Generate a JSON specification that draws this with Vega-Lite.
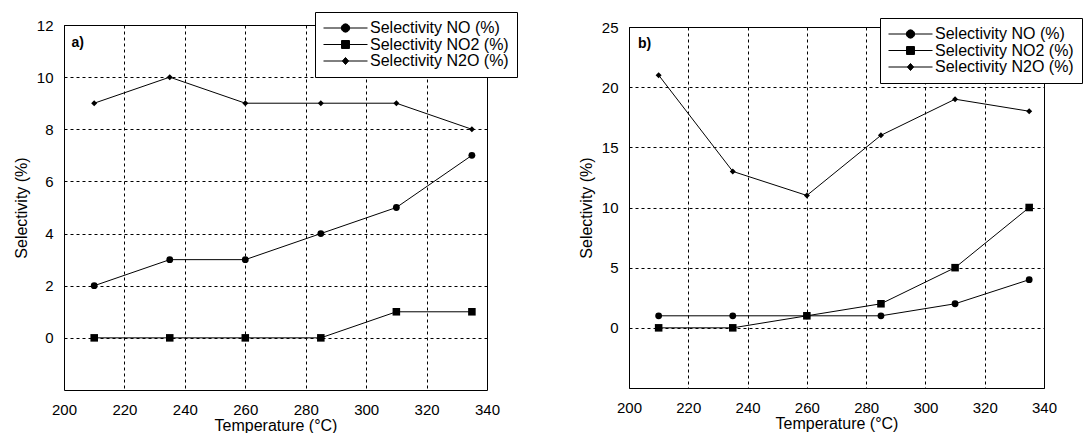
{
  "$schema": "https://vega.github.io/schema/vega-lite/v6.json",
  "autosize": {"type": "pad"},
  "padding": {"left": 12, "top": 11, "right": 0, "bottom": 0},
  "background": "white",
  "config": {
    "font": "Liberation Sans",
    "view": {"stroke": "black", "strokeWidth": 1},
    "axis": {
      "labelFont": "Liberation Sans",
      "labelFontSize": 15,
      "labelColor": "black",
      "titleFont": "Liberation Sans",
      "titleFontSize": 16,
      "titleFontWeight": "normal",
      "titleColor": "black",
      "domain": false,
      "ticks": false,
      "grid": true,
      "gridColor": "black",
      "gridDash": [3, 3],
      "gridWidth": 1,
      "labelFlush": false,
      "labelOverlap": false
    },
    "axisX": {"labelPadding": 12, "titlePadding": 0},
    "axisY": {"labelPadding": 11, "titlePadding": 7},
    "legend": {
      "labelFont": "Liberation Sans",
      "labelFontSize": 16,
      "labelColor": "black",
      "title": null,
      "orient": "none",
      "padding": 8,
      "symbolSize": 1936,
      "clipHeight": 16,
      "rowPadding": 0.5,
      "labelOffset": 2,
      "symbolOpacity": 1,
      "symbolStrokeWidth": 1
    }
  },
  "datasets": {
    "a": [
      {"T": 210, "sel": 2, "series": "Selectivity NO (%)"},
      {"T": 235, "sel": 3, "series": "Selectivity NO (%)"},
      {"T": 260, "sel": 3, "series": "Selectivity NO (%)"},
      {"T": 285, "sel": 4, "series": "Selectivity NO (%)"},
      {"T": 310, "sel": 5, "series": "Selectivity NO (%)"},
      {"T": 335, "sel": 7, "series": "Selectivity NO (%)"},
      {"T": 210, "sel": 0, "series": "Selectivity NO2 (%)"},
      {"T": 235, "sel": 0, "series": "Selectivity NO2 (%)"},
      {"T": 260, "sel": 0, "series": "Selectivity NO2 (%)"},
      {"T": 285, "sel": 0, "series": "Selectivity NO2 (%)"},
      {"T": 310, "sel": 1, "series": "Selectivity NO2 (%)"},
      {"T": 335, "sel": 1, "series": "Selectivity NO2 (%)"},
      {"T": 210, "sel": 9, "series": "Selectivity N2O (%)"},
      {"T": 235, "sel": 10, "series": "Selectivity N2O (%)"},
      {"T": 260, "sel": 9, "series": "Selectivity N2O (%)"},
      {"T": 285, "sel": 9, "series": "Selectivity N2O (%)"},
      {"T": 310, "sel": 9, "series": "Selectivity N2O (%)"},
      {"T": 335, "sel": 8, "series": "Selectivity N2O (%)"}
    ],
    "b": [
      {"T": 210, "sel": 1, "series": "Selectivity NO (%)"},
      {"T": 235, "sel": 1, "series": "Selectivity NO (%)"},
      {"T": 260, "sel": 1, "series": "Selectivity NO (%)"},
      {"T": 285, "sel": 1, "series": "Selectivity NO (%)"},
      {"T": 310, "sel": 2, "series": "Selectivity NO (%)"},
      {"T": 335, "sel": 4, "series": "Selectivity NO (%)"},
      {"T": 210, "sel": 0, "series": "Selectivity NO2 (%)"},
      {"T": 235, "sel": 0, "series": "Selectivity NO2 (%)"},
      {"T": 260, "sel": 1, "series": "Selectivity NO2 (%)"},
      {"T": 285, "sel": 2, "series": "Selectivity NO2 (%)"},
      {"T": 310, "sel": 5, "series": "Selectivity NO2 (%)"},
      {"T": 335, "sel": 10, "series": "Selectivity NO2 (%)"},
      {"T": 210, "sel": 21, "series": "Selectivity N2O (%)"},
      {"T": 235, "sel": 13, "series": "Selectivity N2O (%)"},
      {"T": 260, "sel": 11, "series": "Selectivity N2O (%)"},
      {"T": 285, "sel": 16, "series": "Selectivity N2O (%)"},
      {"T": 310, "sel": 19, "series": "Selectivity N2O (%)"},
      {"T": 335, "sel": 18, "series": "Selectivity N2O (%)"}
    ]
  },
  "bounds": "flush",
  "center": true,
  "spacing": 142,
  "hconcat": [
    {
      "width": 423,
      "height": 365,
      "data": {"name": "a"},
      "layer": [
        {
          "mark": {"type": "line", "color": "black", "strokeWidth": 1},
          "encoding": {
            "x": {"field": "T", "type": "quantitative", "scale": {"domain": [200, 340], "nice": false, "zero": false}, "axis": {"values": [200, 220, 240, 260, 280, 300, 320, 340], "title": "Temperature (°C)"}},
            "y": {"field": "sel", "type": "quantitative", "scale": {"domain": [-2, 12], "nice": false, "zero": false}, "axis": {"values": [0, 2, 4, 6, 8, 10, 12], "title": "Selectivity (%)"}},
            "detail": {"field": "series"}
          }
        },
        {
          "mark": {"type": "point", "filled": false, "color": "black", "fill": "black", "stroke": "black", "strokeWidth": 1, "opacity": 0},
          "encoding": {
            "x": {"field": "T", "type": "quantitative"},
            "y": {"field": "sel", "type": "quantitative"},
            "shape": {
              "field": "series", "type": "nominal",
              "scale": {"domain": ["Selectivity NO (%)", "Selectivity NO2 (%)", "Selectivity N2O (%)"], "range": ["M-1,0H1M0.19,0L0.165,0.095L0.095,0.165L0,0.19L-0.095,0.165L-0.165,0.095L-0.19,0L-0.165,-0.095L-0.095,-0.165L0,-0.19L0.095,-0.165L0.165,-0.095Z", "M-1,0H1M-0.18,-0.18H0.18V0.18H-0.18Z", "M-1,0H1M0,-0.16L0.14,0L0,0.16L-0.14,0Z"]},
              "legend": {"legendX": 251, "legendY": -13, "strokeColor": "black", "fillColor": "white"}
            }
          }
        },
        {
          "mark": {"type": "point", "filled": true, "color": "black", "opacity": 1},
          "encoding": {
            "x": {"field": "T", "type": "quantitative"},
            "y": {"field": "sel", "type": "quantitative"},
            "size": {"field": "series", "type": "nominal", "scale": {"domain": ["Selectivity N2O (%)", "Selectivity NO (%)", "Selectivity NO2 (%)"], "range": [36, 57, 64]}, "legend": null},
            "shape": {"field": "series", "type": "nominal", "scale": {"domain": ["Selectivity N2O (%)", "Selectivity NO (%)", "Selectivity NO2 (%)"], "range": ["diamond", "circle", "square"]}, "legend": null}
          }
        },
        {
          "data": {"values": [{"label": "a)"}]},
          "mark": {"type": "text", "align": "left", "baseline": "middle", "fontWeight": "bold", "fontSize": 14, "color": "black", "font": "Liberation Sans"},
          "encoding": {
            "x": {"datum": 202.5},
            "y": {"datum": 11.3},
            "text": {"field": "label"}
          }
        }
      ],
      "resolve": {"scale": {"shape": "independent", "size": "independent"}, "legend": {"shape": "independent"}}
    },
    {
      "width": 415,
      "height": 361,
      "data": {"name": "b"},
      "layer": [
        {
          "mark": {"type": "line", "color": "black", "strokeWidth": 1},
          "encoding": {
            "x": {"field": "T", "type": "quantitative", "scale": {"domain": [200, 340], "nice": false, "zero": false}, "axis": {"values": [200, 220, 240, 260, 280, 300, 320, 340], "title": "Temperature (°C)"}},
            "y": {"field": "sel", "type": "quantitative", "scale": {"domain": [-5, 25], "nice": false, "zero": false}, "axis": {"values": [0, 5, 10, 15, 20, 25], "title": "Selectivity (%)"}},
            "detail": {"field": "series"}
          }
        },
        {
          "mark": {"type": "point", "filled": false, "color": "black", "fill": "black", "stroke": "black", "strokeWidth": 1, "opacity": 0},
          "encoding": {
            "x": {"field": "T", "type": "quantitative"},
            "y": {"field": "sel", "type": "quantitative"},
            "shape": {
              "field": "series", "type": "nominal",
              "scale": {"domain": ["Selectivity NO (%)", "Selectivity NO2 (%)", "Selectivity N2O (%)"], "range": ["M-1,0H1M0.19,0L0.165,0.095L0.095,0.165L0,0.19L-0.095,0.165L-0.165,0.095L-0.19,0L-0.165,-0.095L-0.095,-0.165L0,-0.19L0.095,-0.165L0.165,-0.095Z", "M-1,0H1M-0.18,-0.18H0.18V0.18H-0.18Z", "M-1,0H1M0,-0.16L0.14,0L0,0.16L-0.14,0Z"]},
              "legend": {"legendX": 251, "legendY": -9, "strokeColor": "black", "fillColor": "white"}
            }
          }
        },
        {
          "mark": {"type": "point", "filled": true, "color": "black", "opacity": 1},
          "encoding": {
            "x": {"field": "T", "type": "quantitative"},
            "y": {"field": "sel", "type": "quantitative"},
            "size": {"field": "series", "type": "nominal", "scale": {"domain": ["Selectivity N2O (%)", "Selectivity NO (%)", "Selectivity NO2 (%)"], "range": [36, 57, 64]}, "legend": null},
            "shape": {"field": "series", "type": "nominal", "scale": {"domain": ["Selectivity N2O (%)", "Selectivity NO (%)", "Selectivity NO2 (%)"], "range": ["diamond", "circle", "square"]}, "legend": null}
          }
        },
        {
          "data": {"values": [{"label": "b)"}]},
          "mark": {"type": "text", "align": "left", "baseline": "middle", "fontWeight": "bold", "fontSize": 14, "color": "black", "font": "Liberation Sans"},
          "encoding": {
            "x": {"datum": 203},
            "y": {"datum": 23.6},
            "text": {"field": "label"}
          }
        }
      ],
      "resolve": {"scale": {"shape": "independent", "size": "independent"}, "legend": {"shape": "independent"}}
    }
  ],
  "resolve": {"scale": {"shape": "independent", "size": "independent", "x": "independent", "y": "independent"}, "legend": {"shape": "independent"}}
}
